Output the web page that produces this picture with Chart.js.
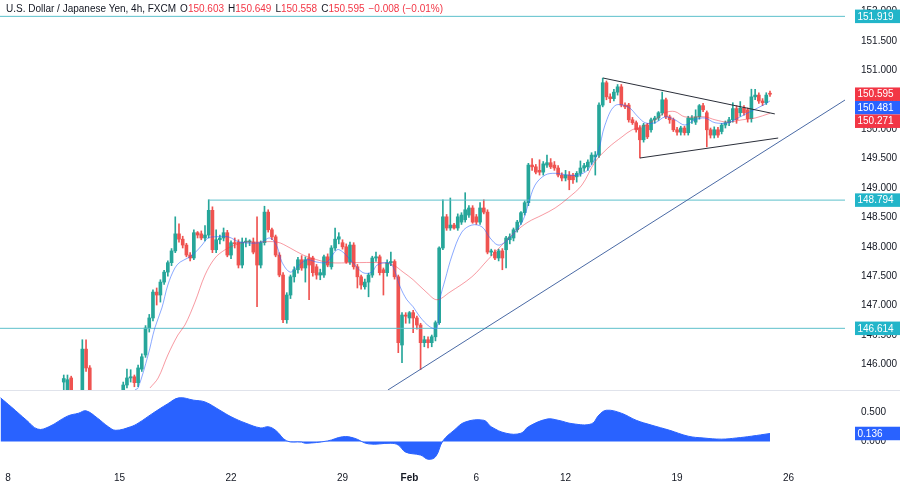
<!DOCTYPE html>
<html lang="en">
<head>
  <meta charset="UTF-8">
  <title>USDJPY 4h - FXCM</title>
  <script src="https://cdn.jsdelivr.net/npm/chart.js"></script>
  <style>
    body { margin: 0; background: #fff; }
    #wrap { position: relative; width: 900px; height: 484px; }
    #legenda {
      position: absolute; left: 6px; top: 3px;
      font: 10px 'Liberation Sans', Arial, sans-serif;
      color: #131722; white-space: pre;
    }
    #legenda .g { margin-left: 4px; }
    #legenda b { font-weight: normal; color: #f23645; }
  </style>
</head>
<body>
<div id="wrap">
  <canvas id="grafico"></canvas>
  <div id="legenda"><span>U.S. Dollar / Japanese Yen, 4h, FXCM</span><span class="g">O<b>150.603</b></span><span class="g">H<b>150.649</b></span><span class="g">L<b>150.558</b></span><span class="g">C<b>150.595</b></span><span class="g"><b>−0.008 (−0.01%)</b></span></div>
</div>

<script>
  // candles are numbered in 4h bars from Mon 8 Jan 00:00 (bar 0)
  const firstCandle = 15;
  const opens = [
    145.70,145.50,145.77,145.50,145.40,145.45,146.26,145.94,145.45,145.30,
    145.35,145.25,145.30,145.40,145.35,145.45,145.50,145.65,145.77,145.79,
    145.69,145.92,146.16,146.62,146.79,147.23,147.18,147.40,147.57,147.73,
    147.93,148.22,148.13,148.03,147.86,147.81,148.24,148.22,148.15,148.20,
    148.62,147.95,148.12,148.15,148.24,147.86,148.07,148.08,147.69,148.08,
    148.08,148.08,148.07,147.69,148.07,148.59,148.29,148.17,147.86,147.52,
    146.76,147.18,147.49,147.61,147.78,147.64,147.81,147.81,147.66,147.52,
    147.52,147.83,147.66,147.98,148.13,148.07,148.00,147.74,148.03,147.66,
    147.49,147.32,147.40,147.52,147.81,147.83,147.61,147.56,147.73,147.75,
    147.49,146.33,146.84,146.79,146.88,146.79,146.67,146.37,146.42,146.37,
    146.47,146.71,147.98,148.51,148.32,148.37,148.32,148.42,148.46,148.54,
    148.66,148.51,148.42,148.66,148.59,147.91,147.91,147.81,147.93,147.95,
    148.12,148.15,148.29,148.42,148.58,148.75,149.39,149.36,149.30,149.27,
    149.39,149.43,149.39,149.34,149.22,149.17,149.22,149.22,149.19,149.25,
    149.34,149.36,149.44,149.53,149.56,150.41,150.79,150.55,150.52,150.63,
    150.72,150.41,150.41,150.16,150.11,150.02,149.82,150.07,149.99,150.16,
    150.19,150.28,150.50,150.21,150.16,149.99,149.95,150.02,149.94,150.16,
    150.12,150.21,150.40,150.28,149.99,149.90,149.99,149.96,150.07,150.11,
    150.16,150.35,150.28,150.36,150.33,150.18,150.55,150.58,150.48,150.45,
    150.603
  ];
  const highs = [
    145.82,145.82,145.80,145.52,145.50,146.42,146.42,145.98,145.52,145.40,
    145.45,145.38,145.45,145.50,145.48,145.55,145.70,145.92,145.91,145.82,
    145.99,146.18,146.66,146.85,147.27,147.30,147.44,147.60,147.76,147.97,
    148.51,148.39,148.18,148.06,147.90,148.29,148.26,148.27,148.36,148.80,
    148.68,148.29,148.20,148.32,148.28,148.10,148.15,148.12,148.15,148.15,
    148.12,148.15,148.51,148.10,148.69,148.63,148.32,148.20,147.90,147.56,
    147.22,147.52,147.66,147.82,147.85,147.83,147.88,147.84,147.70,147.62,
    147.86,147.88,148.02,148.32,148.24,148.12,148.05,148.08,148.07,147.70,
    147.52,147.45,147.55,147.84,147.91,147.86,147.64,147.78,147.91,147.78,
    147.52,146.88,146.88,146.90,146.92,146.82,146.70,146.48,146.47,146.50,
    146.74,148.00,148.80,148.55,148.83,148.40,148.56,148.58,148.92,148.70,
    148.70,148.55,148.75,148.80,148.63,147.96,147.95,147.96,147.97,148.18,
    148.22,148.32,148.45,148.60,148.78,149.42,149.50,149.40,149.48,149.45,
    149.56,149.50,149.45,149.38,149.26,149.30,149.28,149.25,149.28,149.46,
    149.42,149.48,149.60,149.62,150.45,150.87,150.82,150.60,150.68,150.76,
    150.76,150.45,150.44,150.20,150.14,150.06,150.10,150.10,150.19,150.22,
    150.30,150.63,150.53,150.24,150.19,150.03,150.05,150.05,150.22,150.23,
    150.33,150.42,150.44,150.31,150.02,150.04,150.03,150.10,150.14,150.20,
    150.45,150.40,150.47,150.40,150.36,150.68,150.68,150.62,150.52,150.62,
    150.649
  ];
  const lows = [
    145.55,145.45,145.40,145.30,145.30,145.40,145.88,145.35,145.25,145.15,
    145.20,145.10,145.20,145.28,145.25,145.35,145.45,145.60,145.70,145.62,
    145.62,145.88,146.12,146.55,146.74,147.01,147.06,147.36,147.50,147.68,
    147.90,148.08,147.98,147.83,147.76,147.78,148.15,148.12,148.10,148.15,
    147.90,147.90,148.05,148.10,147.83,147.80,147.98,147.64,147.64,148.00,
    148.02,147.88,146.98,147.64,148.03,148.25,148.12,147.83,147.49,146.71,
    146.70,147.12,147.40,147.55,147.60,147.40,147.10,147.50,147.45,147.44,
    147.48,147.66,147.62,147.94,148.05,147.96,147.72,147.70,147.62,147.30,
    147.28,147.28,147.15,147.48,147.75,147.52,147.18,147.50,147.68,147.45,
    146.20,146.03,146.70,146.70,146.54,146.60,145.91,146.30,146.28,146.30,
    146.40,146.68,147.95,148.28,148.28,148.30,148.28,148.38,148.42,148.50,
    148.40,148.38,148.38,148.56,147.88,147.85,147.78,147.76,147.61,147.64,
    148.05,148.10,148.25,148.38,148.54,148.70,149.30,149.24,149.22,149.22,
    149.35,149.33,149.30,149.19,149.12,149.12,148.97,149.08,149.10,149.20,
    149.28,149.30,149.40,149.22,149.52,150.38,150.50,150.45,150.48,150.58,
    150.38,150.35,150.12,150.08,149.95,149.51,149.78,149.84,149.95,150.10,
    150.15,150.24,150.18,150.10,149.96,149.90,149.90,149.90,149.90,150.10,
    150.08,150.17,150.30,149.70,149.85,149.85,149.86,149.92,150.02,150.06,
    150.12,150.10,150.22,150.24,150.12,150.12,150.50,150.44,150.40,150.42,
    150.558
  ];
  const closes = [
    145.76,145.74,145.50,145.40,145.45,146.26,145.94,145.45,145.30,145.35,
    145.25,145.30,145.40,145.35,145.45,145.50,145.65,145.77,145.79,145.69,
    145.94,146.13,146.62,146.79,147.23,147.18,147.40,147.57,147.73,147.93,
    148.22,148.13,148.03,147.86,147.81,148.24,148.20,148.15,148.20,148.62,
    147.95,148.12,148.15,148.24,147.86,148.07,148.05,147.69,148.08,148.08,
    148.10,147.91,147.69,148.07,148.59,148.29,148.17,147.86,147.52,146.76,
    147.18,147.49,147.61,147.78,147.64,147.78,147.69,147.56,147.52,147.56,
    147.83,147.69,147.98,148.13,148.17,148.00,147.74,148.03,147.66,147.49,
    147.35,147.40,147.52,147.81,147.83,147.56,147.56,147.73,147.75,147.49,
    146.37,146.84,146.82,146.88,146.79,146.67,146.37,146.42,146.37,146.47,
    146.71,147.98,148.51,148.32,148.37,148.32,148.51,148.54,148.63,148.66,
    148.42,148.42,148.66,148.59,147.91,147.93,147.81,147.93,147.81,148.15,
    148.17,148.29,148.42,148.58,148.75,149.39,149.36,149.27,149.27,149.41,
    149.43,149.36,149.34,149.22,149.17,149.22,149.14,149.14,149.25,149.34,
    149.38,149.44,149.56,149.56,150.41,150.79,150.55,150.52,150.63,150.72,
    150.41,150.38,150.16,150.11,149.99,149.82,150.07,149.87,150.16,150.19,
    150.28,150.50,150.21,150.16,149.99,149.95,150.02,149.94,150.19,150.19,
    150.21,150.40,150.33,149.99,149.90,149.99,149.90,150.07,150.11,150.16,
    150.35,150.16,150.36,150.28,150.18,150.55,150.58,150.48,150.45,150.58,
    150.595
  ];

  // moving averages (bar index, price)
  const blueMaIdx = [34.2,35,37.7,39.5,41.4,43,44.9,46.3,48.4,50.3,52.2,53.8,55.7,59.2,62.4,67.8,70.5,72.4,73.7,75.9,
    77.8,80.4,83.1,85.8,88.5,90.1,92.8,95.5,97.9,99.3,102,103.6,105.5,107.3,109,110.8,113.5,115.4,116.2,117.6,
    119.5,122.1,124.8,127.5,129.7,131.8,133.7,136.4,138.6,139.9,141.8,144.5,147.2,150.7,153.4,156,158.7,160.6,163.3,166.8,
    169.5,171.4,174.1,176.8,179.4,182.1,184.8,187.5,190.2,193.7,196.4,199.1,202.9,205];
  const blueMa = [145.57,145.60,146.16,146.62,146.96,147.35,147.64,147.74,147.81,147.90,148.03,148.15,148.17,148.17,148.08,148.07,148.15,148.00,147.74,147.57,
    147.66,147.78,147.74,147.74,147.95,147.91,147.73,147.56,147.57,147.69,147.73,147.66,147.32,147.10,146.98,146.81,146.64,146.62,147.10,147.44,
    147.86,148.25,148.37,148.34,148.15,148.03,148.08,148.25,148.46,148.71,149.05,149.22,149.25,149.22,149.22,149.31,149.61,150.07,150.40,150.38,
    150.21,150.11,150.11,150.21,150.16,150.07,150.16,150.19,150.11,150.11,150.19,150.28,150.40,150.481];
  const redMaIdx = [38.2,40.4,43,45.7,47.6,50.3,53,55.7,58.4,61.1,63.8,67,72.4,75.9,79.4,83.1,86.6,92.8,100.1,103.6,
    106.3,109,112.7,115.4,118.9,124.8,129.1,132.9,136.4,139.9,143.7,147.2,150.7,154.4,157.9,161.4,165.2,167.9,170.6,174.1,
    176.8,179.4,182.1,187.5,190.2,193.7,197.5,201,205];
  const redMa = [145.60,145.77,146.16,146.50,146.67,147.06,147.52,147.81,147.95,148.03,148.08,148.08,148.08,147.98,147.86,147.78,147.73,147.73,147.73,147.69,
    147.57,147.44,147.22,147.10,147.23,147.49,147.78,148.03,148.25,148.42,148.54,148.66,148.83,149.05,149.44,149.68,149.87,149.99,150.04,150.16,
    150.28,150.30,150.21,150.21,150.16,150.12,150.16,150.19,150.271];

  // lower pane oscillator
  const oscIdx = [-2,1,5,8,11,16,19,21,24,27,29,33,35,39,43,46,50,53,57,60,64,68,70,72,75,79,80,86,90,93,
    97,103,105,107,111,113,115,117,120,123,128,130,134,138,140,145,148,152,157,159,161,165,169,173,178,183,187,192,196,200,205];
  const oscVal = [0.74,0.58,0.36,0.21,0.25,0.43,0.48,0.52,0.40,0.25,0.19,0.25,0.31,0.48,0.64,0.74,0.70,0.67,0.53,0.42,
    0.31,0.23,0.25,0.19,0.01,-0.01,-0.03,0.01,0.08,0.06,-0.04,-0.03,-0.06,-0.18,-0.23,-0.30,-0.26,0.01,0.19,0.33,
    0.36,0.25,0.14,0.14,0.25,0.38,0.36,0.30,0.30,0.45,0.53,0.48,0.36,0.28,0.19,0.09,0.06,0.04,0.06,0.09,0.136];

  const dayTicks = [0, 30, 60, 90, 108, 126, 150, 180, 210];
  const dayLabels = ['8', '15', '22', '29', 'Feb', '6', '12', '19', '26'];
  const priceTicks = [146, 146.5, 147, 147.5, 148, 148.5, 149, 149.5, 150, 150.5, 151, 151.5, 152];
  const oscTicks = [0, 0.5];

  // drawn levels and trend lines
  const levels = [151.919, 148.794, 146.614];
  const levelFrom = [-3, 54, -3];
  const trendUp = [[102.2, 145.565], [225.2, 150.497]];
  const triTop = [[160.1, 150.87], [206.3, 150.26]];
  const triBottom = [[170.0, 149.51], [207.2, 149.85]];

  const UP = '#26a69a', DOWN = '#ef5350', CYAN = '#22b5c9', RED = '#f23645', BLUE = '#2962ff';
  const FONT = "'Liberation Sans', Arial, sans-serif";

  const idx = opens.map((_, k) => firstCandle + k);
  const candleColor = c => closes[c.dataIndex] >= opens[c.dataIndex] ? UP : DOWN;
  const pts = (xs, ys) => xs.map((x, k) => ({ x: x, y: ys[k] }));
  const seg = s => s.map(p => ({ x: p[0], y: p[1] }));

  const linha = (data, color, order, extra) => Object.assign({
    type: 'line', data: data, borderColor: color, borderWidth: 1,
    pointRadius: 0, yAxisID: 'y', order: order
  }, extra || {});

  const datasets = [
    linha(seg(trendUp), '#4a6aa5', 0),
    linha(seg(triTop), '#2a2e39', 0),
    linha(seg(triBottom), '#2a2e39', 0),
    linha(pts(blueMaIdx, blueMa), 'rgba(41,98,255,0.55)', 1, { tension: 0.35 }),
    linha(pts(redMaIdx, redMa), 'rgba(242,54,69,0.5)', 1, { tension: 0.35 }),
    {
      type: 'bar', data: idx.map((x, k) => ({ x: x, y: [opens[k], closes[k]] })),
      backgroundColor: candleColor, barThickness: 3, minBarLength: 1,
      grouped: false, yAxisID: 'y', order: 5
    },
    {
      type: 'bar', data: idx.map((x, k) => ({ x: x, y: [lows[k], highs[k]] })),
      backgroundColor: candleColor, barThickness: 1, minBarLength: 1,
      grouped: false, yAxisID: 'y', order: 6
    },
    {
      type: 'line', data: pts(oscIdx, oscVal), yAxisID: 'y2',
      borderColor: BLUE, backgroundColor: BLUE, borderWidth: 1,
      fill: { value: 0 }, pointRadius: 0, tension: 0.4, order: 7
    }
  ];
  levels.forEach((lv, k) => {
    datasets.push(linha([{ x: levelFrom[k], y: lv }, { x: 230, y: lv }], '#5cc0cb', 2));
  });

  // keep price datasets inside the upper pane
  const recorte = {
    id: 'recorte',
    beforeDatasetDraw(chart, args) {
      const ys = args.meta.yScale;
      if (ys.id !== 'y') return;
      const a = chart.chartArea;
      chart.ctx.save();
      chart.ctx.beginPath();
      chart.ctx.rect(a.left, ys.top, a.right - a.left, ys.bottom - ys.top);
      chart.ctx.clip();
    },
    afterDatasetDraw(chart, args) {
      if (args.meta.yScale.id === 'y') chart.ctx.restore();
    }
  };

  // pane separator and right-hand value tags
  const etiquetas = {
    id: 'etiquetas',
    afterDraw(chart) {
      const ctx = chart.ctx;
      const y2 = chart.scales.y2;
      ctx.save();
      ctx.strokeStyle = '#e0e3eb';
      ctx.lineWidth = 1;
      ctx.beginPath();
      ctx.moveTo(0, Math.round(y2.top) + 0.5);
      ctx.lineTo(chart.width, Math.round(y2.top) + 0.5);
      ctx.stroke();

      const tags = [
        { s: 'y', v: levels[0], bg: CYAN },
        { s: 'y', v: closes[closes.length - 1], bg: RED },
        { s: 'y', v: blueMa[blueMa.length - 1], bg: BLUE },
        { s: 'y', v: redMa[redMa.length - 1], bg: RED },
        { s: 'y', v: levels[1], bg: CYAN },
        { s: 'y', v: levels[2], bg: CYAN },
        { s: 'y2', v: oscVal[oscVal.length - 1], bg: BLUE }
      ];
      const h = 13.5;
      let prev = -100;
      ctx.font = '10px ' + FONT;
      ctx.textBaseline = 'middle';
      ctx.textAlign = 'left';
      tags.forEach(t => {
        let y = chart.scales[t.s].getPixelForValue(t.v);
        if (t.s === 'y' && y < prev + h) y = prev + h;
        prev = y;
        ctx.fillStyle = t.bg;
        ctx.fillRect(855, y - h / 2, 45, h);
        ctx.fillStyle = '#ffffff';
        ctx.fillText(t.v.toFixed(3), 857.5, y + 0.5);
      });
      ctx.restore();
    }
  };

  const semMargem = s => {
    s.paddingTop = 0; s.paddingBottom = 0; s.paddingLeft = 0; s.paddingRight = 0;
  };

  const eixoY = (min, max, weight, ticks) => ({
    type: 'linear', position: 'right', stack: 'paineis', stackWeight: weight,
    min: min, max: max, offset: false,
    grid: { display: false, drawTicks: false },
    border: { display: false },
    afterBuildTicks: s => { s.ticks = ticks.map(v => ({ value: v })); },
    afterFit: s => { s.width = 55; semMargem(s); },
    ticks: {
      padding: 16, color: '#131722', font: { family: FONT, size: 10 },
      callback: v => v.toFixed(3)
    }
  });

  new Chart(document.getElementById('grafico'), {
    type: 'bar',
    data: { datasets: datasets },
    options: {
      responsive: true,
      maintainAspectRatio: false,
      animation: false,
      devicePixelRatio: 1,
      layout: { padding: 0 },
      plugins: { legend: { display: false }, tooltip: { enabled: false } },
      scales: {
        x: {
          type: 'linear', min: -2.152, max: 225.18, offset: false,
          grid: { display: false, drawTicks: false },
          border: { display: false },
          afterBuildTicks: s => { s.ticks = dayTicks.map(v => ({ value: v })); },
          afterFit: s => { s.height = 16; semMargem(s); },
          ticks: {
            autoSkip: false, maxRotation: 0, padding: 4, color: '#131722',
            font: c => ({ family: FONT, size: 10, weight: c.tick && c.tick.value === 108 ? 'bold' : 'normal' }),
            callback: v => dayLabels[dayTicks.indexOf(v)]
          }
        },
        y: eixoY(145.565, 152.197, 5, priceTicks),
        y2: eixoY(-0.449, 0.873, 1, oscTicks)
      }
    },
    plugins: [recorte, etiquetas]
  });
</script>
</body>
</html>
